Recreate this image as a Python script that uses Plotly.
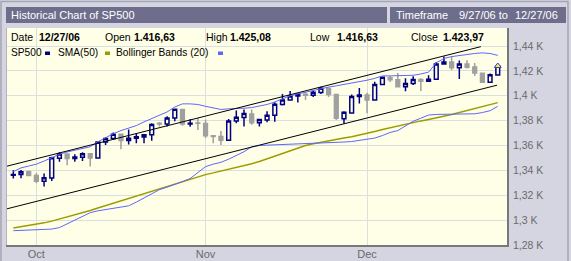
import plotly.graph_objects as go

# ---------------- data ----------------
dates = ["2006-09-27", "2006-09-28", "2006-09-29",
         "2006-10-02", "2006-10-03", "2006-10-04", "2006-10-05", "2006-10-06",
         "2006-10-09", "2006-10-10", "2006-10-11", "2006-10-12", "2006-10-13",
         "2006-10-16", "2006-10-17", "2006-10-18", "2006-10-19", "2006-10-20",
         "2006-10-23", "2006-10-24", "2006-10-25", "2006-10-26", "2006-10-27",
         "2006-10-30", "2006-10-31",
         "2006-11-01", "2006-11-02", "2006-11-03",
         "2006-11-06", "2006-11-07", "2006-11-08", "2006-11-09", "2006-11-10",
         "2006-11-13", "2006-11-14", "2006-11-15", "2006-11-16", "2006-11-17",
         "2006-11-20", "2006-11-21", "2006-11-22", "2006-11-24",
         "2006-11-27", "2006-11-28", "2006-11-29", "2006-11-30",
         "2006-12-01",
         "2006-12-04", "2006-12-05", "2006-12-06", "2006-12-07", "2006-12-08",
         "2006-12-11", "2006-12-12", "2006-12-13", "2006-12-14", "2006-12-15",
         "2006-12-18", "2006-12-19", "2006-12-20", "2006-12-21", "2006-12-22",
         "2006-12-26", "2006-12-27"]

opens = [1336.1, 1336.6, 1338.9, 1335.8, 1331.3, 1333.8, 1349.8, 1353.2, 1349.6, 1350.6,
         1353.3, 1349.9, 1362.8, 1365.6, 1369.1, 1364.1, 1365.8, 1366.9, 1368.6, 1377.9,
         1377.4, 1382.2, 1388.9, 1377.3, 1378.2, 1377.8, 1367.8, 1367.3, 1364.3, 1379.8,
         1382.5, 1385.4, 1378.3, 1380.6, 1384.4, 1392.9, 1396.6, 1399.8, 1401.2, 1400.5,
         1402.7, 1405.9, 1401.0, 1381.6, 1386.1, 1399.5, 1400.6, 1396.7, 1409.1, 1414.4,
         1412.9, 1407.3, 1409.8, 1413.0, 1411.6, 1413.2, 1425.5, 1427.1, 1422.5, 1425.5,
         1423.2, 1418.1, 1410.8, 1416.63]
highs = [1340.1, 1340.3, 1339.9, 1337.8, 1337.5, 1351.0, 1354.6, 1353.4, 1352.9, 1354.6,
         1353.9, 1363.1, 1366.7, 1370.5, 1369.1, 1372.9, 1369.6, 1368.7, 1377.9, 1379.0,
         1383.6, 1389.6, 1388.9, 1381.2, 1382.0, 1381.0, 1368.5, 1371.7, 1381.4, 1388.2,
         1389.0, 1388.9, 1381.5, 1387.6, 1394.8, 1401.4, 1403.8, 1401.5, 1402.8, 1403.8,
         1407.3, 1406.6, 1401.0, 1387.6, 1401.1, 1406.3, 1402.5, 1411.2, 1415.3, 1415.9,
         1418.3, 1414.1, 1415.6, 1414.0, 1416.6, 1427.2, 1431.6, 1431.8, 1428.3, 1428.5,
         1426.4, 1418.8, 1417.9, 1425.08]
lows = [1333.5, 1333.7, 1335.6, 1329.7, 1327.1, 1331.5, 1347.0, 1344.2, 1347.0, 1347.5,
        1343.2, 1349.9, 1360.5, 1364.5, 1356.9, 1360.9, 1361.8, 1361.8, 1363.9, 1375.2,
        1375.3, 1379.5, 1375.9, 1375.0, 1372.5, 1366.0, 1361.8, 1360.5, 1364.3, 1378.0,
        1375.3, 1376.7, 1375.3, 1378.8, 1379.1, 1392.1, 1396.6, 1394.6, 1396.6, 1399.0,
        1401.4, 1399.0, 1380.6, 1377.8, 1386.1, 1393.8, 1386.0, 1396.7, 1408.8, 1411.1,
        1406.8, 1403.7, 1408.6, 1403.9, 1411.6, 1413.2, 1425.5, 1420.7, 1413.5, 1422.0,
        1415.9, 1410.4, 1410.4, 1416.63]
closes = [1336.6, 1338.9, 1335.9, 1331.3, 1334.1, 1350.2, 1353.2, 1349.6, 1350.7, 1353.4,
          1350.0, 1362.8, 1365.6, 1369.1, 1364.1, 1365.8, 1367.0, 1368.6, 1377.0, 1377.4,
          1382.2, 1389.1, 1377.3, 1377.9, 1377.9, 1367.8, 1367.3, 1364.3, 1379.8, 1382.8,
          1385.7, 1378.3, 1380.9, 1384.4, 1393.2, 1396.6, 1399.8, 1401.2, 1400.5, 1402.8,
          1406.1, 1401.0, 1382.0, 1386.7, 1399.5, 1400.6, 1396.7, 1409.1, 1414.8, 1412.9,
          1407.3, 1409.8, 1413.0, 1411.6, 1413.2, 1425.5, 1427.1, 1422.5, 1425.6, 1423.0,
          1418.3, 1410.8, 1416.9, 1423.97]

sma50 = [1293.6, 1294.6, 1295.5, 1296.5, 1297.8, 1299.2, 1300.8, 1302.3, 1304.0, 1305.8,
         1307.7, 1309.8, 1311.7, 1313.8, 1315.9, 1318.0, 1319.9, 1321.5, 1323.2, 1325.0,
         1327.0, 1329.2, 1331.3, 1333.2, 1335.0, 1336.6, 1338.0, 1339.4, 1340.8, 1342.3,
         1343.8, 1345.4, 1347.2, 1349.3, 1351.5, 1353.8, 1356.2, 1358.3, 1360.0, 1361.4,
         1362.7, 1363.9, 1365.0, 1366.0, 1367.0, 1368.2, 1369.6, 1371.2, 1372.8, 1374.3,
         1375.7, 1377.1, 1378.5, 1379.8, 1381.0, 1382.2, 1383.5, 1385.0, 1386.6, 1388.2,
         1389.8, 1391.3, 1392.8, 1394.5]
bb_upper = [1339.0, 1342.0, 1343.5, 1345.0, 1347.5, 1350.5, 1353.0, 1354.8, 1356.0, 1357.5,
            1359.0, 1363.0, 1366.5, 1369.5, 1372.0, 1374.0, 1376.0, 1379.0, 1381.5, 1384.0,
            1387.0, 1391.0, 1393.5, 1393.5, 1393.0, 1391.5, 1390.0, 1389.0, 1389.5, 1389.5,
            1390.0, 1390.5, 1391.5, 1393.0, 1395.0, 1397.5, 1400.0, 1401.5, 1403.0, 1404.5,
            1406.0, 1407.0, 1408.0, 1409.0, 1410.5, 1411.5, 1412.5, 1414.0, 1416.0, 1416.0,
            1416.0, 1416.0, 1416.5, 1417.5, 1419.0, 1426.5, 1430.0, 1431.5, 1432.5, 1433.5,
            1434.0, 1434.5, 1434.0, 1432.5]
bb_lower = [1291.5, 1291.8, 1292.0, 1292.2, 1292.5, 1292.8, 1294.0, 1297.0, 1300.5, 1303.5,
            1306.0, 1307.5, 1308.5, 1309.5, 1310.5, 1311.5, 1314.5, 1318.0, 1321.5, 1324.5,
            1326.5, 1328.5, 1331.0, 1333.5, 1338.0, 1343.0, 1345.0, 1346.5, 1349.0, 1352.0,
            1355.0, 1359.0, 1360.0, 1360.3, 1360.5, 1360.8, 1361.0, 1361.3, 1361.5, 1361.8,
            1362.0, 1362.2, 1362.5, 1362.8, 1363.2, 1364.0, 1364.8, 1366.0, 1368.0, 1370.5,
            1372.0, 1376.0, 1379.5, 1382.0, 1384.5, 1385.0, 1385.0, 1385.0, 1385.0, 1385.0,
            1385.5, 1386.5, 1388.0, 1391.5]

trend_upper_idx = [-0.82, 60.8]
trend_upper_val = [1343.4, 1439.5]
trend_lower_idx = [-0.82, 62.9]
trend_lower_val = [1309.1, 1408.5]

y_tickvals = [1280, 1300, 1320, 1340, 1360, 1380, 1400, 1420, 1440]
y_ticktext = ["1,28 K", "1,3 K", "1,32 K", "1,34 K", "1,36 K", "1,38 K", "1,4 K", "1,42 K", "1,44 K"]
month_names = {10: "Oct", 11: "Nov", 12: "Dec"}

title_text = "Historical Chart of SP500"
timeframe = ("Timeframe", "9/27/06 to", "12/27/06")
info_labels = ["Date", "Open", "High", "Low", "Close"]
info_values = ["12/27/06", "1.416,63", "1.425,08", "1.416,63", "1.423,97"]
legend_names = ["SP500", "SMA(50)", "Bollinger Bands (20)"]

# ---------------- geometry helpers ----------------
W, H = 571, 261
ML, MR, MT, MB = 7, 64, 28, 16
PW, PH = W - ML - MR, H - MT - MB


def px(x):
    return (x - ML) / PW


def py(y):
    return (H - MB - y) / PH


idx = list(range(len(dates)))
month_ticks, month_text = [], []
for i, d in enumerate(dates):
    m = int(d[5:7])
    if i > 0 and m != int(dates[i - 1][5:7]):
        month_ticks.append(i)
        month_text.append(month_names[m])

FONT = "Liberation Sans"
NAVY = "#000080"
OLIVE = "#9c9c00"
BLUE = "#5e66ff"
GRAY = "#a0a0a0"
CREAM = "#ffffe8"
BAR = "#6e6e8c"
BG = "#d5d5e2"

fig = go.Figure()
fig.add_trace(go.Scatter(x=idx, y=sma50, mode="lines", line=dict(color=OLIVE, width=1.5),
                         showlegend=False, hoverinfo="skip"))
fig.add_trace(go.Scatter(x=idx, y=bb_upper, mode="lines", line=dict(color=BLUE, width=1),
                         showlegend=False, hoverinfo="skip"))
fig.add_trace(go.Scatter(x=idx, y=bb_lower, mode="lines", line=dict(color=BLUE, width=1),
                         showlegend=False, hoverinfo="skip"))
fig.add_trace(go.Scatter(x=trend_upper_idx, y=trend_upper_val, mode="lines",
                         line=dict(color="#000000", width=1), showlegend=False, hoverinfo="skip"))
fig.add_trace(go.Scatter(x=trend_lower_idx, y=trend_lower_val, mode="lines",
                         line=dict(color="#000000", width=1), showlegend=False, hoverinfo="skip"))
fig.add_trace(go.Candlestick(
    x=idx, open=opens, high=highs, low=lows, close=closes,
    increasing=dict(line=dict(color=NAVY, width=1.5), fillcolor=CREAM),
    decreasing=dict(line=dict(color=GRAY, width=1.5), fillcolor=GRAY),
    whiskerwidth=0, showlegend=False))
fig.add_trace(go.Scatter(x=[idx[-1]], y=[closes[-1]], mode="markers",
                         marker=dict(symbol="triangle-up", size=6, color="#ffff00",
                                     line=dict(color="#3333ff", width=1)),
                         showlegend=False, hoverinfo="skip"))

shapes = []
# outer frame
shapes.append(dict(type="rect", xref="paper", yref="paper", x0=px(1), x1=px(568), y0=py(275), y1=py(1.5),
                   line=dict(color="#a4a4b4", width=1.5), fillcolor="rgba(0,0,0,0)", layer="below"))
# title bar and timeframe box
shapes.append(dict(type="rect", xref="paper", yref="paper", x0=px(6), x1=px(387), y0=py(23), y1=py(7),
                   line=dict(width=0), fillcolor=BAR))
shapes.append(dict(type="rect", xref="paper", yref="paper", x0=px(390), x1=px(566), y0=py(23), y1=py(7),
                   line=dict(width=0), fillcolor=BAR))
# panel shadow lines
shapes.append(dict(type="line", xref="paper", yref="paper", x0=px(6), x1=px(509), y0=py(246), y1=py(246),
                   line=dict(color="#787878", width=2)))
shapes.append(dict(type="line", xref="paper", yref="paper", x0=px(508), x1=px(508), y0=py(28), y1=py(247),
                   line=dict(color="#787878", width=2)))
shapes.append(dict(type="line", xref="paper", yref="paper", x0=px(6.5), x1=px(6.5), y0=py(28), y1=py(245),
                   line=dict(color="#b4b4c0", width=1)))
# legend swatches
for x0, col in [(45, NAVY), (105, OLIVE), (218, BLUE)]:
    shapes.append(dict(type="rect", xref="paper", yref="paper", x0=px(x0), x1=px(x0 + 5),
                       y0=py(55), y1=py(51.5), line=dict(width=0), fillcolor=col))

ann = []


def text(x, y, s, color="#000000", size=10.5, anchor="left"):
    ann.append(dict(x=px(x), y=py(y), xref="paper", yref="paper", text=s, showarrow=False,
                    xanchor=anchor, yanchor="middle", font=dict(family=FONT, size=size, color=color),
                    borderpad=0))


text(10, 15, title_text, "#ffffff", 11)
text(395, 15, timeframe[0], "#ffffff", 11)
text(458, 15, timeframe[1], "#ffffff", 11)
text(514, 15, timeframe[2], "#ffffff", 11)
label_x = [10, 104, 205, 309, 410]
value_x = [38, 133, 229, 336, 442]
for lx, vx, lab, val in zip(label_x, value_x, info_labels, info_values):
    text(lx, 37, lab)
    text(vx, 37, "<b>" + val + "</b>")
for x0, s in zip([10, 57, 115], legend_names):
    text(x0, 53, s, size=10.2)

fig.update_layout(
    width=W, height=H,
    margin=dict(l=ML, r=MR, t=MT, b=MB, pad=0, autoexpand=False),
    paper_bgcolor=BG, plot_bgcolor=CREAM,
    shapes=shapes, annotations=ann,
    font=dict(family=FONT, size=11, color="#6a6a6a"),
    xaxis=dict(range=[-0.82, 64.2], tickmode="array", tickvals=month_ticks, ticktext=month_text,
               showgrid=True, gridcolor="#dadfe0", gridwidth=1, zeroline=False, showline=False,
               ticks="", ticklabelstandoff=1, automargin=False,
               rangeslider=dict(visible=False), fixedrange=True,
               tickfont=dict(family=FONT, size=11, color="#6a6a6a")),
    yaxis=dict(range=[1280, 1454.5], side="right", tickmode="array", tickvals=y_tickvals,
               ticktext=y_ticktext, showgrid=True, gridcolor="#dadfe0", gridwidth=1,
               zeroline=False, showline=False, ticks="", ticklabelstandoff=5, automargin=False,
               tickfont=dict(family=FONT, size=10.5, color="#6a6a6a")),
    showlegend=False,
)

fig.write_html("out.html", config={"displayModeBar": False})
